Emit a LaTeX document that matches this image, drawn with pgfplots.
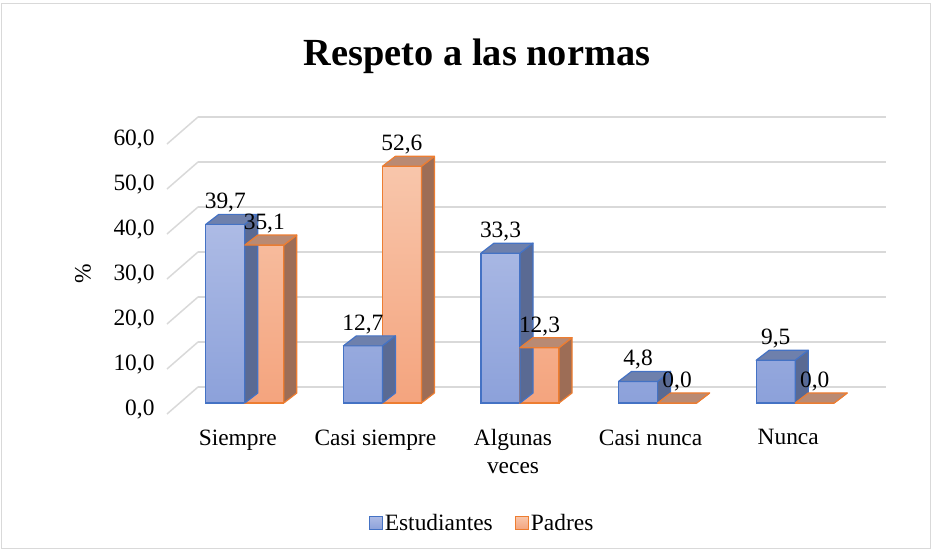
\documentclass[border=0pt]{standalone}
\usepackage{pgfplots}
\pgfplotsset{compat=1.18}
\usepackage{fontspec}
\setmainfont{Liberation Serif}
\definecolor{bbord}{HTML}{4472C4}
\definecolor{btop}{HTML}{ADBBE5}
\definecolor{bbot}{HTML}{8CA1DA}
\definecolor{bside}{HTML}{5A6A93}
\definecolor{bcap}{HTML}{6E80AC}
\definecolor{obord}{HTML}{ED7D31}
\definecolor{otop}{HTML}{F8C6AB}
\definecolor{obot}{HTML}{F4A47E}
\definecolor{oside}{HTML}{9D6D56}
\definecolor{ocap}{HTML}{B98A73}
\definecolor{gridc}{HTML}{D9D9D9}
\newcommand\fs{\fontsize{23.5}{28}\selectfont}
\pgfdeclareplotmark{emptymark}{}
\pgfplotsset{
  prism/.style n args={5}{
    scatter, only marks, mark=emptymark, forget plot,
    visualization depends on={rawy \as \ry},
    scatter/@pre marker code/.code={%
      \pgfmathsetmacro\hh{\ry*4.5}%
      \filldraw[draw=#5, fill=#4, line width=1.2bp, line join=round]
        (#2,0bp) -- ++(13bp,10bp) -- ++(0bp,-\hh bp) -- ++(-13bp,-10bp) -- cycle;
      \filldraw[draw=#5, fill=#3, line width=1.2bp, line join=round]
        (#1,0bp) -- (#2,0bp) -- ++(13bp,10bp) -- ++(-39bp,0bp) -- cycle;
    },
    scatter/@post marker code/.code={},
  }
}
\begin{document}
\begin{tikzpicture}
\path[use as bounding box] (0bp,0bp) rectangle (932bp,552bp);
\draw[gridc, line width=1bp] (1.5bp,3bp) rectangle (930.5bp,548.5bp);
\node[font=\fontsize{38.5}{44}\selectfont\bfseries] at (477bp,496bp) {Respeto a las normas};
\begin{axis}[
  at={(176bp,149bp)}, anchor=south west,
  scale only axis, width=688bp, height=270bp,
  xmin=-0.5, xmax=4.5, ymin=0, ymax=60,
  clip=false,
  ytick={0,10,...,60}, xtick={0,...,4},
  xticklabels={Siempre, Casi siempre, Algunas\\veces, Casi nunca, Nunca},
  axis line style={draw=none}, tick style={draw=none},
  ymajorgrids, major grid style={draw=gridc, line width=1.5bp, xshift=22bp, yshift=16bp},
  /pgf/number format/.cd, fixed, fixed zerofill, precision=1, use comma, assume math mode=true,
  /pgfplots/.cd,
  every tick label/.append style={font=\fs},
  yticklabel style={anchor=east, xshift=-18bp, yshift=-7bp},
  xticklabel style={anchor=north, yshift=-23bp, xshift=-7bp, align=center},
  ylabel={\%},
  every axis y label/.style={at={(axis description cs:0,0.5)}, xshift=-93bp, yshift=-6bp, rotate=90, anchor=center, font=\fs},
  legend columns=2,
  legend style={draw=none, fill=none, font=\fs, at={(axis description cs:0.5,0)}, anchor=center, xshift=-38bp, yshift=-120bp,
    /tikz/every even column/.append style={column sep=20bp}},
  nodes near coords style={font=\fs, anchor=south, yshift=8bp},
  after end axis/.code={
    \foreach \v in {0,10,...,60} {
      \draw[gridc, line width=1.5bp] (axis cs:-0.5,\v) ++(-9bp,-11bp) -- ++(31bp,27bp);
    }
  },
]
\addplot[ybar, bar width=39bp, bar shift=-19.5bp, draw=bbord, line width=1.2bp,
  top color=btop, bottom color=bbot, nodes near coords,
  every node near coord/.append style={xshift=-19.5bp},
  legend image code/.code={\draw[draw=bbord, line width=1.2bp, top color=btop, bottom color=bbot] (0bp,-6.5bp) rectangle (13bp,6.5bp);}]
  coordinates {(0,39.7) (1,12.7) (2,33.3) (3,4.8) (4,9.5)};
\addlegendentry{Estudiantes}
\addplot[prism={-39bp}{0bp}{bcap}{bside}{bbord}]
  coordinates {(0,39.7) (1,12.7) (2,33.3) (3,4.8) (4,9.5)};
\addplot[ybar, bar width=39bp, bar shift=19.5bp, draw=obord, line width=1.2bp,
  top color=otop, bottom color=obot, nodes near coords,
  every node near coord/.append style={xshift=19.5bp},
  legend image code/.code={\draw[draw=obord, line width=1.2bp, top color=otop, bottom color=obot] (0bp,-6.5bp) rectangle (13bp,6.5bp);}]
  coordinates {(0,35.1) (1,52.6) (2,12.3) (3,0.0) (4,0.0)};
\addlegendentry{Padres}
\addplot[prism={0bp}{39bp}{ocap}{oside}{obord}]
  coordinates {(0,35.1) (1,52.6) (2,12.3) (3,0.0) (4,0.0)};
\end{axis}
\end{tikzpicture}
\end{document}
